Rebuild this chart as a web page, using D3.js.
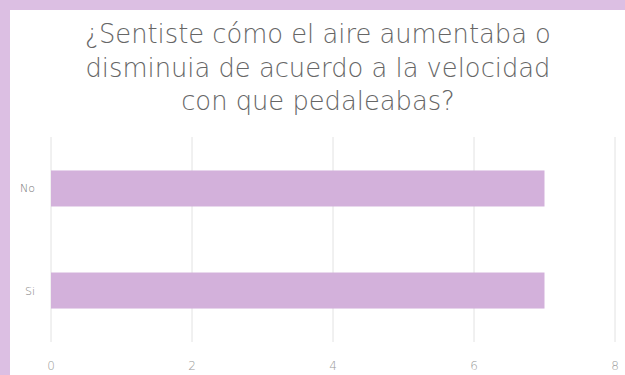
<!DOCTYPE html>
<html>
<head>
<meta charset="utf-8">
<script src="https://cdn.jsdelivr.net/npm/d3@7"></script>
<style>
 body{margin:0;background:#dcbfe3;}
 text{font-family:"DejaVu Sans",Lato,sans-serif;}
</style>
</head>
<body>
<script>
var categories = ["No", "Si"];
var values = [7, 7];
var ticks = [0, 2, 4, 6, 8];
var titleLines = ["¿Sentiste cómo el aire aumentaba o", "disminuia de acuerdo a la velocidad", "con que pedaleabas?"];

var width = 625, height = 375;

var svg = d3.select("body").append("svg")
  .attr("width", width).attr("height", height)
  .style("position","absolute").style("left","0px").style("top","0px");

// purple frame, white panel
svg.append("rect").attr("x",0).attr("y",0).attr("width",width).attr("height",height).attr("fill","#dcbfe3");
svg.append("rect").attr("x",10).attr("y",10).attr("width",width-10).attr("height",height-10).attr("fill","#fff");

var x = d3.scaleLinear().domain([0, 8]).range([51, 615]);
var y = d3.scaleBand().domain(categories).range([137, 342]).paddingInner(0.647).paddingOuter(0.328);

// title
var title = svg.append("g").selectAll("text")
  .data(titleLines)
  .enter().append("text")
    .attr("x", 318)
    .attr("y", function(d, i){ return 43 + i * 33.5; })
    .attr("text-anchor","middle")
    .attr("font-size", 24)
    .attr("font-weight", 200)
    .attr("fill","#666")
    .text(function(d){ return d; });
// fit the first line to ~466px like the original
var w0 = title.node().getComputedTextLength();
if (w0 > 0) title.attr("font-size", Math.max(18, Math.min(30, 24 * 466 / w0)));

// grid
svg.append("g").selectAll("line")
  .data(ticks)
  .enter().append("line")
    .attr("x1", function(d){ return x(d); })
    .attr("x2", function(d){ return x(d); })
    .attr("y1", 137).attr("y2", 342)
    .attr("stroke","#e2e2e2").attr("stroke-width",1);

// bars
svg.append("g").selectAll("rect")
  .data(values)
  .enter().append("rect")
    .attr("x", x(0))
    .attr("y", function(d, i){ return y(categories[i]); })
    .attr("width", function(d){ return x(d) - x(0); })
    .attr("height", y.bandwidth())
    .attr("fill","#d3b1db");

// x tick labels
svg.append("g").selectAll("text")
  .data(ticks)
  .enter().append("text")
    .attr("x", function(d){ return x(d); })
    .attr("y", 370)
    .attr("text-anchor","middle")
    .attr("font-size", 12)
    .attr("font-weight", 200)
    .attr("fill","#999")
    .text(function(d){ return d; });

// category labels
svg.append("g").selectAll("text")
  .data(categories)
  .enter().append("text")
    .attr("x", 35)
    .attr("y", function(d){ return y(d) + y.bandwidth()/2 + 4; })
    .attr("text-anchor","end")
    .attr("font-size", 11)
    .attr("font-weight", 200)
    .attr("fill","#777")
    .text(function(d){ return d; });
</script>
</body>
</html>
